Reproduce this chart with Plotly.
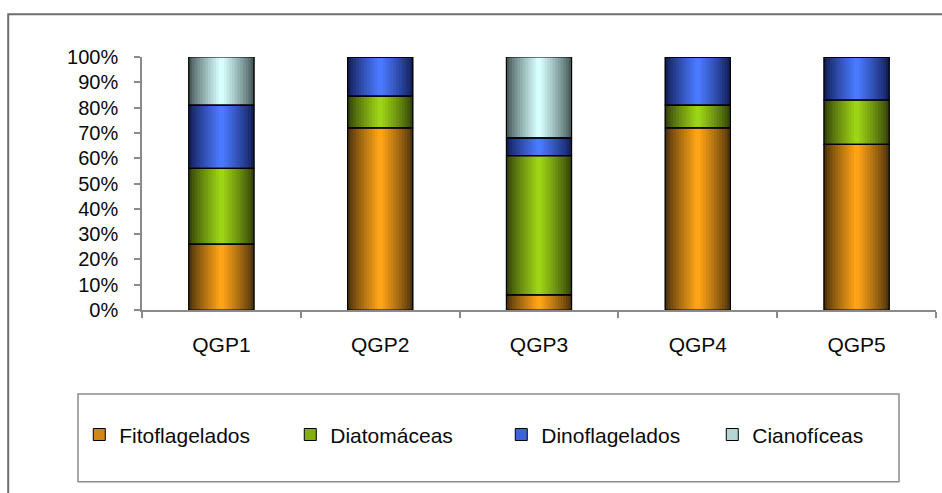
import numpy as np
import plotly.graph_objects as go

# Sampling sites and relative composition (%) of each phytoplankton group
sites = ["QGP1", "QGP2", "QGP3", "QGP4", "QGP5"]
fitoflagelados = [26, 72, 6, 72, 65.5]
diatomaceas = [30, 12.5, 55, 9, 17.5]
dinoflagelados = [25, 15.5, 7, 19, 17]
cianoficeas = [19, 0, 32, 0, 0]

series_names = ["Fitoflagelados", "Diatomáceas", "Dinoflagelados", "Cianofíceas"]
y_ticks = list(range(0, 101, 10))

# (dark edge colour, bright centre colour) for the cylinder-like shading
palette = {
    "Fitoflagelados": ((80, 52, 12), (255, 164, 24)),
    "Diatomáceas": ((54, 70, 10), (158, 212, 22)),
    "Dinoflagelados": ((20, 32, 92), (74, 122, 255)),
    "Cianofíceas": ((72, 92, 92), (216, 255, 255)),
}

BAR_W = 0.41
N_LAYERS = 12
FONT = "Liberation Sans, Arial, sans-serif"
TEXT = "#0a0a0a"
AXIS = "#8a8a8a"


def mix(c0, c1, t):
    return "rgb({},{},{})".format(*[int(round(a + (b - a) * t)) for a, b in zip(c0, c1)])


values = [fitoflagelados, diatomaceas, dinoflagelados, cianoficeas]
bases = np.vstack([np.zeros(len(sites)), np.cumsum(values, axis=0)[:-1]])

fig = go.Figure()
outlines = []
for name, vals, base in zip(series_names, values, bases):
    dark, bright = palette[name]
    # legend carrier (fully covered by the shading layers)
    fig.add_trace(go.Bar(
        x=sites, y=vals, base=base, width=BAR_W, name=name,
        marker=dict(color=mix(dark, bright, 0.75), line=dict(color="black", width=1)),
        showlegend=True, legendgroup=name, hoverinfo="skip",
    ))
    # shading: nested bars, darkest at the edges and brightest at the centre
    for k in range(N_LAYERS):
        frac = 1 - k / N_LAYERS
        t = (k / (N_LAYERS - 1)) ** 0.85
        fig.add_trace(go.Bar(
            x=sites, y=vals, base=base, width=BAR_W * frac * 0.995,
            marker=dict(color=mix(dark, bright, t), line=dict(width=0)),
            showlegend=False, legendgroup=name, hoverinfo="skip",
        ))
    outlines.append((name, vals, base))

# black outlines on top of the shading
for name, vals, base in outlines:
    fig.add_trace(go.Bar(
        x=sites, y=vals, base=base, width=BAR_W, name=name,
        marker=dict(color="rgba(0,0,0,0)", line=dict(color="black", width=1.2)),
        showlegend=False, legendgroup=name,
        hovertemplate="%{x}<br>" + name + ": %{y}%<extra></extra>",
    ))

# chart frame and legend box
fig.add_shape(type="rect", xref="paper", yref="paper",
              x0=-0.1685, x1=1.2, y0=-1.5, y1=1.1686,
              line=dict(color="#6e6e6e", width=2), layer="below")
fig.add_shape(type="rect", xref="paper", yref="paper",
              x0=-0.0806, x1=0.9534, y0=-0.679, y1=-0.3316,
              line=dict(color="#8c8c8c", width=1.5), layer="below")

fig.update_layout(
    width=942, height=493, autosize=False,
    margin=dict(l=142, r=6, t=57, b=183),
    barmode="overlay",
    paper_bgcolor="white", plot_bgcolor="white",
    font=dict(family=FONT, color=TEXT, size=20),
    showlegend=True,
    legend=dict(
        orientation="h", x=-0.079, xanchor="left", y=-0.4935, yanchor="middle",
        font=dict(family=FONT, size=21, color=TEXT),
        bgcolor="rgba(0,0,0,0)", borderwidth=0,
        entrywidth=166, entrywidthmode="pixels", traceorder="normal",
    ),
    xaxis=dict(
        type="category", range=[-0.5, 4.5], tickson="boundaries",
        ticks="outside", ticklen=6, tickcolor=AXIS, tickwidth=1.5,
        showline=True, linecolor=AXIS, linewidth=1.5, showgrid=False,
        tickfont=dict(size=21), ticklabelstandoff=15,
    ),
    yaxis=dict(
        range=[0, 100], tickvals=y_ticks, ticktext=[f"{v}%" for v in y_ticks],
        ticks="outside", ticklen=6, tickcolor=AXIS, tickwidth=1.5,
        showline=True, linecolor=AXIS, linewidth=1.5, showgrid=False, zeroline=False,
        tickfont=dict(size=20), ticklabelstandoff=12,
    ),
)

fig.write_html("out.html")
